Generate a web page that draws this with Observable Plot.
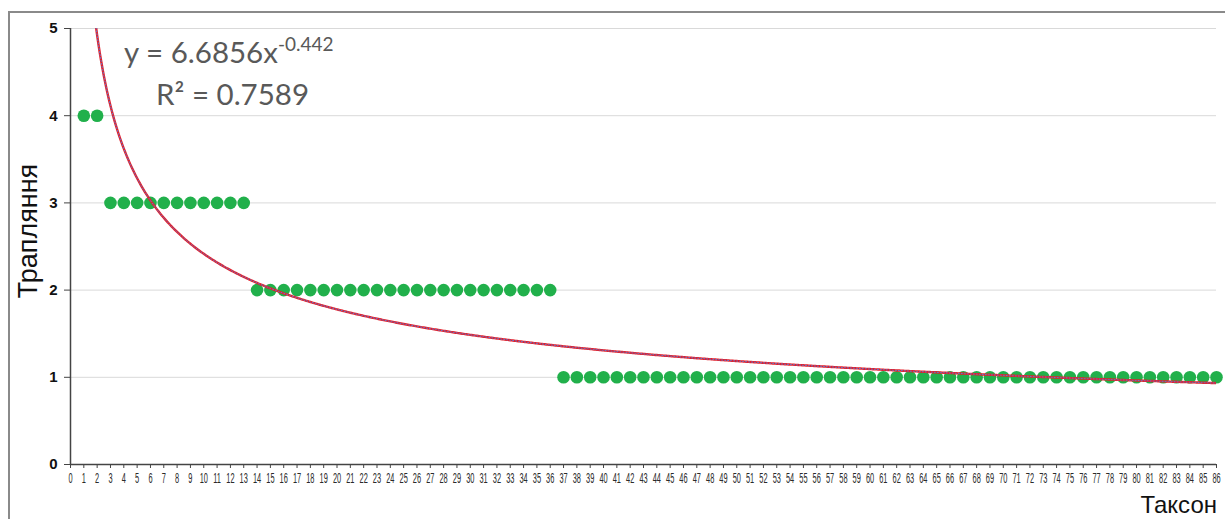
<!DOCTYPE html>
<html>
<head>
<meta charset="utf-8">
<script src="https://cdn.jsdelivr.net/npm/d3@7"></script>
<script src="https://cdn.jsdelivr.net/npm/@observablehq/plot@0.6"></script>
<style>
  html, body { margin: 0; padding: 0; background: #fff; overflow: hidden; }
  #wrap { position: relative; width: 1225px; height: 519px; }
  #frame { position: absolute; left: 8px; top: 11px; width: 1300px; height: 600px;
           border-left: 2px solid #8a8a8a; border-top: 2px solid #8a8a8a; box-sizing: border-box; }
  #chart { position: absolute; left: 0; top: 0; }
  #overlay { position: absolute; left: 0; top: 0; pointer-events: none; }
</style>
</head>
<body>
<div id="wrap">
  <div id="frame"></div>
  <div id="chart"></div>
  <svg id="overlay" width="1225" height="519"></svg>
</div>
<script>
// Taxon index (x) and number of occurrences (y)
const taxon = [1,2,3,4,5,6,7,8,9,10,11,12,13,14,15,16,17,18,19,20,21,22,23,24,25,26,27,28,29,30,
  31,32,33,34,35,36,37,38,39,40,41,42,43,44,45,46,47,48,49,50,51,52,53,54,55,56,57,58,59,60,
  61,62,63,64,65,66,67,68,69,70,71,72,73,74,75,76,77,78,79,80,81,82,83,84,85,86];
const occurrences = [4,4,3,3,3,3,3,3,3,3,3,3,3,2,2,2,2,2,2,2,2,2,2,2,2,2,2,2,2,2,
  2,2,2,2,2,2,1,1,1,1,1,1,1,1,1,1,1,1,1,1,1,1,1,1,1,1,1,1,1,1,
  1,1,1,1,1,1,1,1,1,1,1,1,1,1,1,1,1,1,1,1,1,1,1,1,1,1];
const xTicks = [0,1,2,3,4,5,6,7,8,9,10,11,12,13,14,15,16,17,18,19,20,21,22,23,24,25,26,27,28,29,30,
  31,32,33,34,35,36,37,38,39,40,41,42,43,44,45,46,47,48,49,50,51,52,53,54,55,56,57,58,59,60,
  61,62,63,64,65,66,67,68,69,70,71,72,73,74,75,76,77,78,79,80,81,82,83,84,85,86];
const yTicks = [0,1,2,3,4,5];
// Power trendline shown on the chart: y = a * x^b
const trendA = 6.6856;
const trendB = -0.442;
const trendR2 = 0.7589;

const points = taxon.map((t, i) => ({taxon: t, occ: occurrences[i]}));
const trendX = d3.range(1.5, 86.0001, 0.1);
const trend = trendX.map(x => ({taxon: x, occ: trendA * Math.pow(x, trendB)}));

const plot = Plot.plot({
  width: 1225,
  height: 519,
  marginLeft: 70,
  marginRight: 9,
  marginTop: 28,
  marginBottom: 55,
  x: {domain: [0, 86], ticks: xTicks, tickFormat: d => String(d), label: null},
  y: {domain: [0, 5], ticks: yTicks, tickFormat: d => String(d), label: null},
  style: {background: "transparent", overflow: "visible"},
  marks: [
    Plot.gridY(yTicks.filter(d => d > 0), {stroke: "#d9d9d9", strokeOpacity: 1}),
    Plot.axisX({ticks: xTicks, tickFormat: d => String(d), tickSize: 4, tickPadding: 5, stroke: "#444",
      fontSize: 14, fontFamily: "'Liberation Sans', Arial, sans-serif", fill: "#2a2a2a", label: null}),
    Plot.axisY({ticks: yTicks, tickFormat: d => String(d), tickSize: 6, tickPadding: 7, stroke: "#444",
      fontSize: 15, fontWeight: "bold", fontFamily: "'Liberation Sans', Arial, sans-serif", fill: "#111", label: null}),
    Plot.ruleY([0], {stroke: "#444", strokeWidth: 1.5}),
    Plot.ruleX([0], {stroke: "#444", strokeWidth: 1.5}),
    Plot.dot(points, {x: "taxon", y: "occ", r: 6.3, fill: "#21b04b", stroke: "none"}),
    Plot.line(trend, {x: "taxon", y: "occ", stroke: "#e3202a", strokeWidth: 2.4, clip: true}),
    Plot.line(trend, {x: "taxon", y: "occ", stroke: "#5b7bd5", strokeWidth: 1, strokeDasharray: "1,2", clip: true})
  ]
});
document.getElementById("chart").appendChild(plot);

// Condensed x tick labels (like Arial Narrow in the original)
d3.select(plot).selectAll('g[aria-label="x-axis tick label"] text').each(function() {
  const t = d3.select(this);
  const tr = t.attr("transform") || "";
  t.attr("transform", tr + " scale(0.53,1)");
});

// Annotations
const ov = d3.select("#overlay");
const eqFont = "Lato, 'Open Sans', sans-serif";
const eq = ov.append("text").attr("x", 124).attr("y", 63)
  .attr("font-family", eqFont).attr("font-size", 29.5).attr("fill", "#595959");
eq.append("tspan").text("y = " + trendA.toFixed(4) + "x");
eq.append("tspan").attr("font-size", 19).attr("dy", -12).text(trendB.toString());
ov.append("text").attr("x", 156).attr("y", 105)
  .attr("font-family", eqFont).attr("font-size", 29.5).attr("fill", "#595959")
  .text("R² = " + trendR2.toFixed(4));

ov.append("text")
  .attr("transform", "translate(37,231) rotate(-90)")
  .attr("text-anchor", "middle")
  .attr("font-family", "'Liberation Sans', Arial, sans-serif").attr("font-size", 27).attr("fill", "#111")
  .text("Трапляння");
ov.append("text")
  .attr("x", 1217).attr("y", 513).attr("text-anchor", "end")
  .attr("font-family", "'Liberation Sans', Arial, sans-serif").attr("font-size", 24).attr("fill", "#111")
  .text("Таксон");
</script>
</body>
</html>
